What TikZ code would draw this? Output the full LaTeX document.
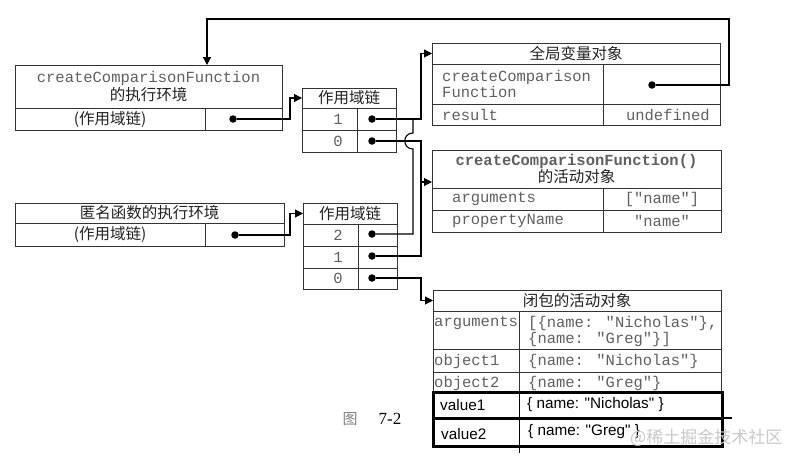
\documentclass[tikz,border=0pt]{standalone}
\usepackage{fontspec}
\newfontfamily\monof{Liberation Mono}
\newfontfamily\cjkf{Noto Sans CJK SC}
\newfontfamily\sansf{Liberation Sans}
\newfontfamily\seriff{Liberation Serif}
\usetikzlibrary{arrows.meta,calc}
\definecolor{linec}{HTML}{333333}
\definecolor{monoc}{HTML}{606060}
\definecolor{cjkc}{HTML}{222222}
\definecolor{wmc}{HTML}{C8C8C8}
\newcommand\myMono{\monof\fontsize{15.5}{16}\selectfont}
\newcommand\myCjk{\cjkf\fontsize{15.5}{17}\selectfont}
\newcommand\mySans{\sansf\fontsize{15.3}{17}\selectfont}
\begin{document}
\begin{tikzpicture}[x=1pt,y=-1pt,
  cell/.style={draw=linec, line width=0.9pt, inner sep=0pt, outer sep=0pt, anchor=north west, font=\myMono, text=monoc},
  ccell/.style={cell, font=\myCjk, text=cjkc},
  vcell/.style={draw=black, line width=3pt, inner sep=0pt, outer sep=0pt, anchor=north west},
  txt/.style={inner sep=0pt, font=\myMono, text=monoc},
  vtxt/.style={inner sep=0pt, font=\mySans, text=black, anchor=west},
  dot/.style={circle, fill=black, minimum size=7.5pt, inner sep=0pt},
  conn/.style={draw=black, line width=1.1pt},
  arr/.style={conn, -{Triangle[length=8pt,width=8pt]}}]
\useasboundingbox (0,0) rectangle (790,466);

% ---- Box A: createComparisonFunction execution context
\node[cell, minimum width=267pt, minimum height=43pt, align=center] (Ahead) at (15,65)
  {createComparisonFunction\\{\myCjk\color{cjkc}的执行环境}};
\node[ccell, minimum width=190pt, minimum height=22pt] (Alab) at (15,108) {(作用域链)};
\node[cell, minimum width=77pt, minimum height=22pt] (Aptr) at (205,108) {};
\node[dot] (Adot) at (233,119) {};

% ---- scope chain 1
\node[ccell, minimum width=94pt, minimum height=20pt] (c1h) at (302,88) {作用域链};
\node[cell, minimum width=55pt, minimum height=22pt] (c1k1) at (302,108) {};
\node[cell, minimum width=39pt, minimum height=22pt] (c1v1) at (357,108) {};
\node[cell, minimum width=55pt, minimum height=22pt] (c1k0) at (302,130) {};
\node[cell, minimum width=39pt, minimum height=22pt] (c1v0) at (357,130) {};
\node[txt] (c1n1) at (338,119) {1};
\node[txt] (c1n0) at (338,141) {0};
\node[dot] (c1d1) at (372,119) {};
\node[dot] (c1d0) at (372,141) {};

% ---- global variable object
\node[ccell, minimum width=288pt, minimum height=21pt] (gh) at (432,43) {全局变量对象};
\node[cell, minimum width=171pt, minimum height=40pt] (g1k) at (432,64) {};
\node[cell, minimum width=117pt, minimum height=40pt] (g1v) at (603,64) {};
\node[cell, minimum width=171pt, minimum height=21pt] (g2k) at (432,104) {};
\node[cell, minimum width=117pt, minimum height=21pt] (g2v) at (603,104) {};
\node[txt, anchor=west, align=left] (g1kt) at (442,84) {createComparison\\Function};
\node[txt, anchor=west] (g2kt) at (442,115) {result};
\node[txt, anchor=east] (g2vt) at (710,115) {undefined};
\node[dot] (gdot) at (652,85) {};

% ---- activation object of createComparisonFunction()
\node[cell, minimum width=289pt, minimum height=38pt, align=center] (ah) at (432,150)
  {\bfseries createComparisonFunction()\\{\myCjk\color{cjkc}的活动对象}};
\node[cell, minimum width=171pt, minimum height=22pt] (a1k) at (432,188) {};
\node[cell, minimum width=118pt, minimum height=22pt] (a1v) at (603,188) {["name"]};
\node[cell, minimum width=171pt, minimum height=22pt] (a2k) at (432,210) {};
\node[cell, minimum width=118pt, minimum height=22pt] (a2v) at (603,210) {"name"};
\node[txt, anchor=west] (a1kt) at (452,199) {arguments};
\node[txt, anchor=west] (a2kt) at (452,221) {propertyName};

% ---- Box B: anonymous function execution context
\node[ccell, minimum width=269pt, minimum height=20pt] (Bh) at (15,203) {匿名函数的执行环境};
\node[ccell, minimum width=190pt, minimum height=23pt] (Blab) at (15,223) {(作用域链)};
\node[cell, minimum width=79pt, minimum height=23pt] (Bptr) at (205,223) {};
\node[dot] (Bdot) at (235,235) {};

% ---- scope chain 2
\node[ccell, minimum width=94pt, minimum height=21pt] (c2h) at (303,203) {作用域链};
\node[cell, minimum width=55pt, minimum height=22pt] (c2k2) at (303,224) {};
\node[cell, minimum width=39pt, minimum height=22pt] (c2v2) at (358,224) {};
\node[cell, minimum width=55pt, minimum height=22pt] (c2k1) at (303,246) {};
\node[cell, minimum width=39pt, minimum height=22pt] (c2v1) at (358,246) {};
\node[cell, minimum width=55pt, minimum height=21pt] (c2k0) at (303,268) {};
\node[cell, minimum width=39pt, minimum height=21pt] (c2v0) at (358,268) {};
\node[txt] (c2n2) at (338,235) {2};
\node[txt] (c2n1) at (338,257) {1};
\node[txt] (c2n0) at (338,278.5) {0};
\node[dot] (c2d2) at (372,234) {};
\node[dot] (c2d1) at (372,256) {};
\node[dot] (c2d0) at (372,278) {};

% ---- closure activation object
\node[ccell, minimum width=288pt, minimum height=21pt] (ch) at (433,290) {闭包的活动对象};
\node[cell, minimum width=86pt, minimum height=38pt] (k1) at (433,311) {};
\node[cell, minimum width=202pt, minimum height=38pt] (v1) at (519,311) {};
\node[cell, minimum width=86pt, minimum height=23pt] (k2) at (433,349) {};
\node[cell, minimum width=202pt, minimum height=23pt] (v2) at (519,349) {};
\node[cell, minimum width=86pt, minimum height=20pt] (k3) at (433,372) {};
\node[cell, minimum width=202pt, minimum height=20pt] (v3) at (519,372) {};
\node[txt, anchor=west] (k1t) at (434,323) {arguments};
\node[txt, anchor=west, align=left] (v1t) at (528,331) {[\{name: "Nicholas"\},\\\{name: "Greg"\}]};
\node[txt, anchor=west] (k2t) at (434,361) {object1};
\node[txt, anchor=west] (v2t) at (528,361) {\{name: "Nicholas"\}};
\node[txt, anchor=west] (k3t) at (434,383) {object2};
\node[txt, anchor=west] (v3t) at (528,383) {\{name: "Greg"\}};

% ---- added value rows (thick frame)
\node[vcell, minimum width=289pt, minimum height=26pt] (vr1) at (433,392) {};
\node[vcell, minimum width=289pt, minimum height=28pt] (vr2) at (433,418) {};
\draw[black, line width=1pt] (519,392) -- (519,453);
\draw[black, line width=1.2pt] (vr1.south east) -- ++(10,0);
\node[vtxt] (vk1) at (440,405) {value1};
\node[vtxt] (vv1) at (527,405) {\{ name: "Nicholas" \}};
\node[vtxt] (vk2) at (441,434) {value2};
\node[vtxt] (vv2) at (528,432) {\{ name: "Greg" \}};

% ---- caption and watermark
\node[inner sep=0pt, font=\cjkf\fontsize{15}{17}\selectfont, text=gray] (figzh) at (350,419) {图};
\node[inner sep=0pt, font=\seriff\fontsize{17}{19}\selectfont, text=black] (fignum) at (390,419) {7-2};
\node[inner sep=0pt, anchor=west, font=\cjkf\fontsize{17}{19}\selectfont, text=wmc] (wm) at (630,438) {@稀土掘金技术社区};

% ---- connectors
\coordinate (xa) at (290,0);
\coordinate (x413) at (413,0);
\coordinate (x421) at (421,0);
\coordinate (tr) at (729,19);
\coordinate (ta) at (207,19);
\coordinate (aIn) at (432,182);
\coordinate (hopb) at (413,149);
\coordinate (hopt) at (413,133);
\coordinate (j1) at (413,119);
\coordinate (j2) at (421,182);

\draw[arr] (Adot) -- (Adot -| xa) |- (c1h.west);
\draw[arr] (Bdot) -- (Bdot -| xa) |- (c2h.west);
\draw[arr] (gdot) -| (tr) -- (ta) -- (ta |- Ahead.north);
\draw[arr] (c1d1) -- (c1d1 -| x421) |- (gh.west);
\draw[arr] (c1d0) -- (c1d0 -| x421) |- (aIn);
\draw[conn] (c2d2) -- (c2d2 -| x413) -- (hopb) .. controls (402,149) and (402,133) .. (hopt) -- (j1);
\draw[conn] (c2d1) -- (c2d1 -| x421) -- (j2);
\draw[arr] (c2d0) -- (c2d0 -| x421) |- (ch.west);
\end{tikzpicture}
\end{document}
